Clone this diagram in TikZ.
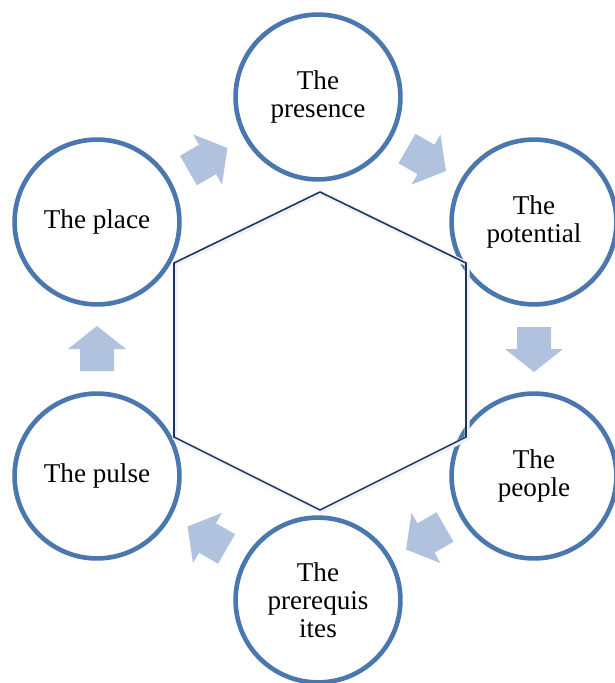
\documentclass[tikz,border=0pt]{standalone}
\usepackage{fontspec}
\setmainfont{Liberation Serif}
\usetikzlibrary{calc}
\definecolor{ringblue}{HTML}{4A77AD}
\definecolor{flowblue}{HTML}{B0C2DE}
\definecolor{hexnavy}{HTML}{1C3464}
\tikzset{
  stage/.style={circle,draw=ringblue,line width=3.3pt,fill=white,minimum size=4.12cm,inner sep=0pt,align=center,font=\fontsize{19.3}{20}\selectfont},
  flow/.pic={\fill[flowblue] (-22,-17) -- (0,-17) -- (0,-29) -- (23,0) -- (0,29) -- (0,17) -- (-22,17) -- cycle;}
}
\begin{document}
\begin{tikzpicture}[x=0.025cm,y=0.025cm]
\useasboundingbox (0,0) rectangle (615,-683);
\node[stage] (presence) at (318,-97) {The\\presence};
\node[stage] (potential) at (534,-222) {The\\potential};
\node[stage] (people) at (534,-476) {The\\people};
\node[stage] (prereq) at (318,-600) {The\\prerequis\\ites};
\node[stage] (pulse) at (97,-476) {The pulse};
\node[stage] (place) at (97,-222) {The place};

\draw[hexnavy,line width=1.1pt,preaction={draw=black!6,line width=3.5pt,transform canvas={shift={(0.8pt,-0.8pt)}}}]
  (320,-192) -- (466,-263) -- (466,-437) -- (320,-510) -- (174,-437) -- (174,-263) -- cycle;

\pic[rotate=30] at ($(place)!0.5!(presence)$) {flow};
\pic[rotate=-30] at ($(presence)!0.5!(potential)$) {flow};
\pic[rotate=-90] at ($(potential)!0.5!(people)$) {flow};
\pic[rotate=-150] at ($(people)!0.5!(prereq)$) {flow};
\pic[rotate=150] at ($(prereq)!0.5!(pulse)$) {flow};
\pic[rotate=90] at ($(pulse)!0.5!(place)$) {flow};
\end{tikzpicture}
\end{document}
